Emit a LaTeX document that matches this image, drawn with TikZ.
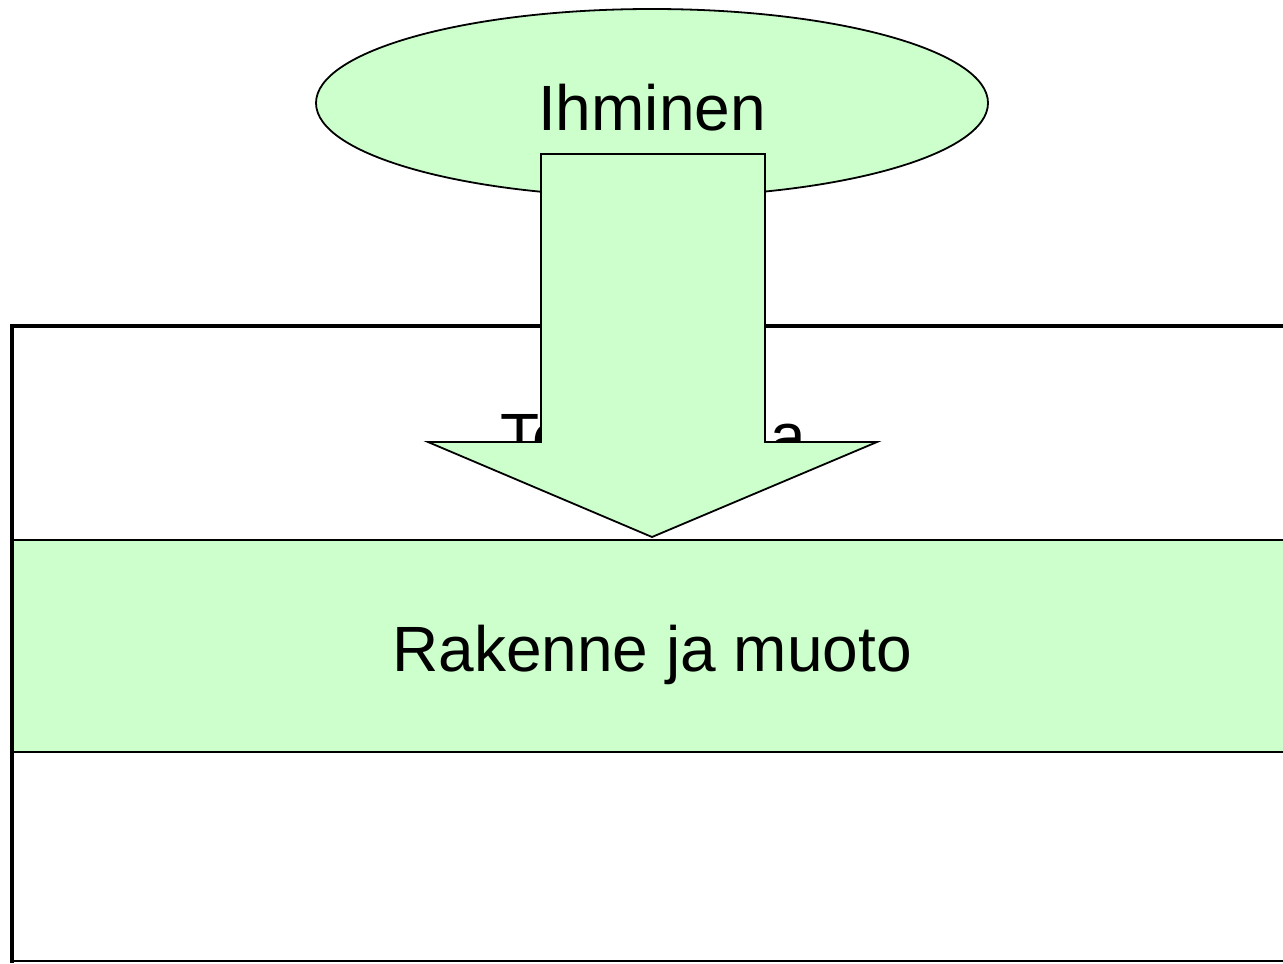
\documentclass[tikz,border=0pt]{standalone}
\usepackage{fontspec}
\setmainfont{Liberation Sans}
\usepackage{tikz}
\usetikzlibrary{shapes.geometric}
\usepackage{xcolor}
\definecolor{vaaleanvihrea}{HTML}{CCFFCC}

\begin{document}
\begin{tikzpicture}[x=0.5pt,y=-0.5pt]
\useasboundingbox (0,0) rectangle (1283,963);
\clip (0,0) rectangle (1283,963);
\tikzset{teksti/.style={font=\fontsize{32}{38}\selectfont, inner sep=0pt}}
% kehys ja kerrokset
\fill [vaaleanvihrea] (13,540) rectangle (1300,752);
\draw  [line width=1pt] (13,540) -- (1300,540);
\draw  [line width=1pt] (13,752) -- (1300,752);
\draw  [line width=1pt] (13,961) -- (1300,961);
\draw  [line width=2.2pt] (12,963) -- (12,326) -- (1300,326);
\node [teksti, anchor=base] (tekno) at (653,458) {Teknologia};
\node [teksti, anchor=base] (rakenne) at (652,671) {Rakenne ja muoto};
% ihminen
\node [ellipse, draw, line width=0.9pt, fill=vaaleanvihrea, minimum width=336pt, minimum height=94pt, inner sep=0pt] (ihminen) at (652,103) {};
\node [teksti, anchor=base] (ihmteksti) at (652,130) {Ihminen};
% nuoli
\coordinate (karki) at (652,537);
\draw  [line width=0.9pt, fill=vaaleanvihrea, line join=miter] (541,154) -- (765,154) -- (765,442) -- (877,442) -- (karki) -- (428,442) -- (541,442) -- cycle;
\end{tikzpicture}
\end{document}
